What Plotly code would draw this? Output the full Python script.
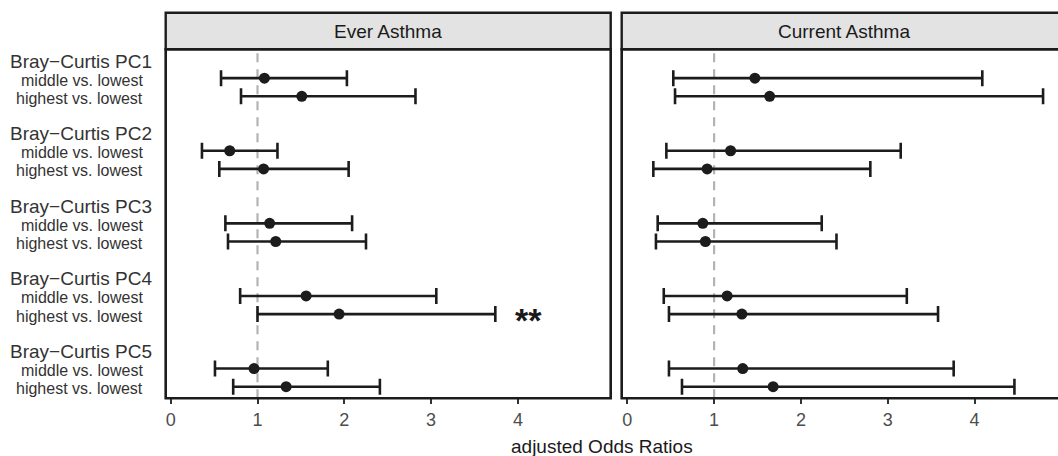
import plotly.graph_objects as go

W, H = 1058, 456

groups = ["Bray\u2212Curtis PC1", "Bray\u2212Curtis PC2", "Bray\u2212Curtis PC3",
          "Bray\u2212Curtis PC4", "Bray\u2212Curtis PC5"]
comparisons = ["middle vs. lowest", "highest vs. lowest"]
facets = ["Ever Asthma", "Current Asthma"]

ever_or = [1.08, 1.51, 0.68, 1.07, 1.14, 1.21, 1.56, 1.94, 0.96, 1.33]
ever_lo = [0.58, 0.81, 0.36, 0.56, 0.63, 0.66, 0.80, 1.00, 0.51, 0.72]
ever_hi = [2.03, 2.82, 1.23, 2.05, 2.09, 2.25, 3.06, 3.74, 1.81, 2.41]

curr_or = [1.47, 1.64, 1.19, 0.92, 0.87, 0.90, 1.15, 1.32, 1.33, 1.68]
curr_lo = [0.53, 0.55, 0.45, 0.30, 0.35, 0.33, 0.42, 0.48, 0.48, 0.63]
curr_hi = [4.09, 4.79, 3.15, 2.80, 2.24, 2.41, 3.22, 3.58, 3.76, 4.46]

x_ticks = [0, 1, 2, 3, 4]
signif_label = "**"
signif_pos = (4.12, 14)  # (odds ratio, row) for PC4 highest vs lowest in Ever Asthma

# row positions: heading at 4g, comparisons at 4g+1, 4g+2
rows = [4 * g + 1 + c for g in range(len(groups)) for c in range(len(comparisons))]

def px(v):
    return v / W

def py(v):
    return 1 - v / H

DARK = "#1c1c1c"
FONT = "Liberation Sans, Arial"
fig = go.Figure()

series = [(ever_or, ever_lo, ever_hi, "x", "y"), (curr_or, curr_lo, curr_hi, "x2", "y2")]
for orv, lo, hi, xa, ya in series:
    fig.add_trace(go.Scatter(
        x=orv, y=rows, mode="markers", xaxis=xa, yaxis=ya,
        marker=dict(color=DARK, size=11, symbol="circle"),
        error_x=dict(type="data", symmetric=False,
                     array=[h - o for h, o in zip(hi, orv)],
                     arrayminus=[o - l for o, l in zip(orv, lo)],
                     color=DARK, thickness=2.6, width=8),
        showlegend=False, hoverinfo="skip"))

left_x = (165.7, 610.7)
right_x = (621.7, 1066.7)
panel_top, panel_bot = 49.3, 398.3
strip_top = 12.7

ydom = [py(panel_bot), py(panel_top)]
yrng = [(panel_bot - 60) / 18.15, (panel_top - 60) / 18.15]

ax_common = dict(showgrid=False, zeroline=False, showline=False, ticks="outside",
                 ticklen=5, tickwidth=2, tickcolor="#333333",
                 tickvals=x_ticks, ticktext=[str(t) for t in x_ticks],
                 tickfont=dict(family=FONT, size=18, color="#4d4d4d"))
fig.update_layout(
    xaxis=dict(domain=[px(left_x[0]), px(left_x[1])],
               range=[(left_x[0] - 170.7) / 86.8, (left_x[1] - 170.7) / 86.8], anchor="y", **ax_common),
    xaxis2=dict(domain=[px(right_x[0]), 1.0],
                range=[(right_x[0] - 627.3) / 86.8, (W - 627.3) / 86.8], anchor="y2", **ax_common),
    yaxis=dict(domain=ydom, range=yrng, showgrid=False, zeroline=False, showticklabels=False,
               ticks="", anchor="x"),
    yaxis2=dict(domain=ydom, range=yrng, showgrid=False, zeroline=False, showticklabels=False,
                ticks="", anchor="x2"),
)

shapes = []
for (x0, x1), xa, name in [(left_x, "x", facets[0]), (right_x, "x2", facets[1])]:
    shapes.append(dict(type="line", xref=xa, yref=xa.replace("x", "y") + " domain",
                       x0=1, x1=1, y0=0, y1=1,
                       line=dict(color="#b3b3b3", width=2.2, dash="9px,7px"), layer="below"))
    shapes.append(dict(type="rect", xref="paper", yref="paper",
                       x0=px(x0), x1=px(x1), y0=py(panel_top), y1=py(strip_top),
                       fillcolor="#e3e3e3", line=dict(color=DARK, width=2.4)))
    shapes.append(dict(type="rect", xref="paper", yref="paper",
                       x0=px(x0), x1=px(x1), y0=py(panel_bot), y1=py(panel_top),
                       fillcolor="rgba(0,0,0,0)", line=dict(color=DARK, width=2.6)))

annotations = []
annotations.append(dict(text=facets[0], xref="paper", yref="paper",
                        x=px((left_x[0] + left_x[1]) / 2), y=py(31), showarrow=False,
                        xanchor="center", yanchor="middle",
                        font=dict(family=FONT, size=19, color="#1a1a1a")))
annotations.append(dict(text=facets[1], xref="paper", yref="paper",
                        x=px((right_x[0] + right_x[1]) / 2), y=py(31), showarrow=False,
                        xanchor="center", yanchor="middle",
                        font=dict(family=FONT, size=19, color="#1a1a1a")))

for g, name in enumerate(groups):
    annotations.append(dict(text=name, xref="paper", yref="y", x=px(153.5), y=4 * g,
                            xanchor="right", yanchor="middle", showarrow=False, yshift=-1,
                            font=dict(family=FONT, size=19, color="#333333")))
    for c, comp in enumerate(comparisons):
        annotations.append(dict(text=comp, xref="paper", yref="y", x=px(144.5), y=4 * g + 1 + c,
                                xanchor="right", yanchor="middle", showarrow=False, yshift=-2,
                                font=dict(family=FONT, size=16, color="#333333")))

annotations.append(dict(text="<b>" + signif_label + "</b>", xref="x", yref="y",
                        x=signif_pos[0], y=signif_pos[1],
                        xanchor="center", yanchor="middle", showarrow=False, yshift=-6,
                        font=dict(family=FONT, size=34, color="#1a1a1a")))

annotations.append(dict(text="adjusted Odds Ratios", xref="paper", yref="paper",
                        x=px(601.5), y=py(446), xanchor="center", yanchor="middle", showarrow=False,
                        font=dict(family=FONT, size=19, color="#1a1a1a")))

fig.update_layout(width=W, height=H, margin=dict(l=0, r=0, t=0, b=0),
                  paper_bgcolor="white", plot_bgcolor="white",
                  shapes=shapes, annotations=annotations)

fig.write_html("out.html", config={"displayModeBar": False},
               post_script="document.body.style.margin='0';document.body.style.padding='0';"
                           "document.documentElement.style.overflow='hidden';")
